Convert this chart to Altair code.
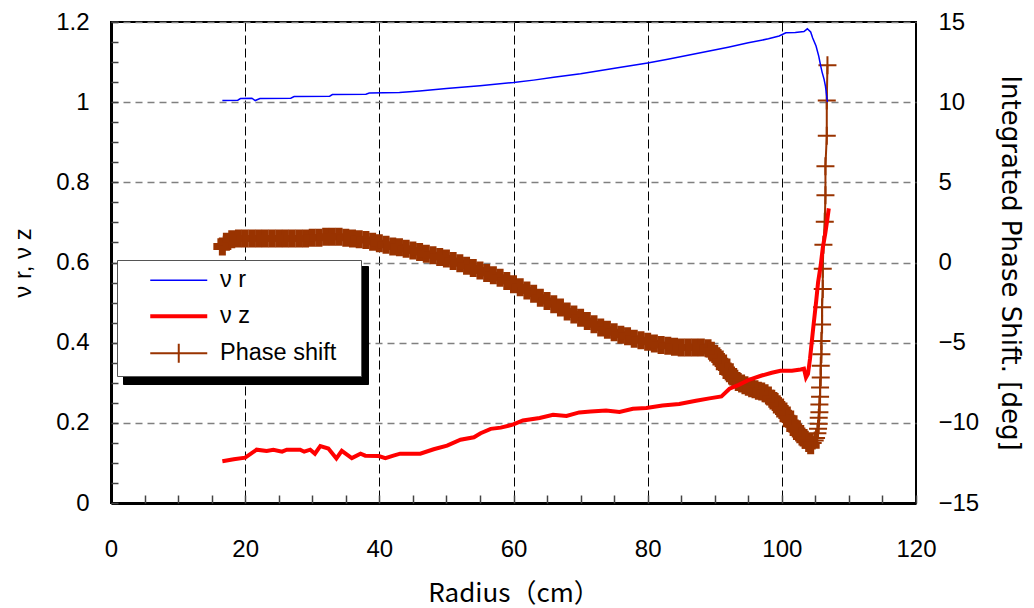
import altair as alt
import pandas as pd

SERIES = ["ν r", "ν z", "Phase shift"]
COLORS = ["#0000FF", "#FF0000", "#993300"]
WIDTHS = [1.5, 4, 2]

# nu_r (blue, left axis)
nr_r = [16.6, 18.9, 19.3, 21.0, 21.5, 22.2, 26.8, 27.3, 32.6, 33.0, 38.0, 38.5, 43.0, 46.0,
        50.0, 55.0, 60.0, 63.0, 66.0, 70.0, 73.0, 76.0, 80.0, 83.0, 86.0, 89.0, 92.0, 95.0,
        98.0, 99.6, 100.6, 102.0, 103.3, 103.8, 104.3, 104.6, 105.1, 105.5, 105.8, 106.0,
        106.3, 106.5, 106.8]
nr_v = [1.004, 1.005, 1.009, 1.010, 1.004, 1.009, 1.010, 1.014, 1.015, 1.019, 1.020, 1.023,
        1.024, 1.028, 1.034, 1.041, 1.049, 1.055, 1.062, 1.071, 1.079, 1.087, 1.098, 1.107,
        1.117, 1.127, 1.137, 1.148, 1.158, 1.165, 1.173, 1.174, 1.176, 1.183, 1.175, 1.160,
        1.140, 1.115, 1.090, 1.075, 1.057, 1.040, 1.000]

# nu_z (red, left axis)
nz_r = [16.6, 18.3, 20.0, 21.7, 23.2, 24.2, 25.5, 26.2, 28.2, 28.8, 29.7, 30.4, 31.2, 32.4,
        33.6, 34.4, 35.9, 37.2, 37.9, 39.9, 40.9, 42.1, 43.1, 46.1, 48.1, 50.1, 52.1, 54.1,
        55.1, 56.6, 58.1, 60.0, 61.4, 63.9, 65.9, 67.9, 69.8, 71.5, 73.8, 75.8, 77.8, 79.8,
        82.2, 84.7, 87.2, 89.2, 91.0, 92.2, 93.5, 95.2, 97.0, 98.5, 99.8, 101.5, 102.8, 103.3,
        103.6, 103.9, 104.2, 104.45, 104.7, 105.1, 105.4, 105.8, 106.1, 106.5, 106.8, 107.0]
nz_v = [0.104, 0.109, 0.113, 0.133, 0.130, 0.133, 0.128, 0.133, 0.133, 0.128, 0.133, 0.123,
        0.142, 0.136, 0.111, 0.130, 0.112, 0.123, 0.118, 0.117, 0.112, 0.118, 0.123, 0.123,
        0.134, 0.143, 0.158, 0.164, 0.174, 0.185, 0.188, 0.196, 0.206, 0.212, 0.220, 0.217,
        0.226, 0.228, 0.231, 0.227, 0.235, 0.237, 0.243, 0.247, 0.255, 0.261, 0.266, 0.285,
        0.294, 0.308, 0.318, 0.325, 0.330, 0.330, 0.333, 0.335, 0.313, 0.322, 0.360, 0.400,
        0.440, 0.500, 0.550, 0.594, 0.636, 0.675, 0.710, 0.735]

# Phase shift (brown, right axis), in measurement order
ph_r = [16.6, 17.2, 18, 19, 20, 21, 22, 23, 24, 25, 26, 27, 28, 29, 30, 31, 32, 33, 34, 35,
        36, 37, 38, 39, 40, 41, 42, 43, 44, 45, 46, 47, 48, 49, 50, 51, 52, 53, 54, 55, 56,
        57, 58, 59, 60, 61, 62, 63, 64, 65, 66, 67, 68, 69, 70, 71, 72, 73, 74, 75, 76, 77,
        78, 79, 80, 81, 82, 83, 84, 85, 86, 87, 88, 89, 89.5, 90, 90.5, 91, 91.5, 92, 92.5,
        93, 93.5, 94, 94.5, 95, 95.5, 96, 96.5, 97, 97.5, 98, 98.5, 99, 99.5, 100, 100.5,
        101, 101.5, 102, 102.5, 103, 103.5, 104, 104.3,
        104.6, 104.9, 105.1, 105.3, 105.4, 105.5, 105.5, 105.6, 105.6, 105.7, 105.7, 105.8,
        105.8, 105.9, 105.9, 106.0, 106.0, 106.1, 106.1, 106.2, 106.4, 106.5, 106.5, 106.7,
        106.7, 106.8]
ph_v = [1.0, 1.3, 1.45, 1.5, 1.5, 1.5, 1.5, 1.5, 1.5, 1.5, 1.5, 1.5, 1.5, 1.5, 1.55, 1.55,
        1.6, 1.6, 1.6, 1.55, 1.5, 1.45, 1.4, 1.3, 1.2, 1.1, 1.0, 0.95, 0.85, 0.75, 0.65, 0.55,
        0.45, 0.35, 0.25, 0.1, -0.05, -0.2, -0.35, -0.5, -0.65, -0.8, -0.95, -1.15, -1.35,
        -1.55, -1.75, -1.95, -2.2, -2.4, -2.6, -2.8, -3.05, -3.25, -3.45, -3.65, -3.85, -4.05,
        -4.2, -4.35, -4.5, -4.6, -4.75, -4.85, -4.95, -5.05, -5.15, -5.2, -5.25, -5.3, -5.3,
        -5.3, -5.3, -5.35, -5.5, -5.7, -5.95, -6.2, -6.5, -6.8, -7.05, -7.25, -7.45, -7.55,
        -7.65, -7.75, -7.85, -7.9, -8.0, -8.05, -8.15, -8.3, -8.5, -8.7, -8.95, -9.2, -9.45,
        -9.75, -10.05, -10.35, -10.6, -10.85, -11.05, -11.25, -11.4,
        -11.25, -11.1, -10.95, -10.65, -10.37, -10.06, -9.69, -9.34, -8.86, -8.37, -7.79,
        -7.17, -6.44, -5.72, -4.9, -3.86, -2.79, -1.65, -0.39, 1.1, 2.54, 4.2, 6.0, 7.9,
        10.1, 12.3]

X_TICKS = [0, 20, 40, 60, 80, 100, 120]
X_MINOR = [0, 5, 10, 15, 20, 25, 30, 35, 40, 45, 50, 55, 60, 65, 70, 75, 80, 85, 90, 95,
           100, 105, 110, 115, 120]
NU_TICKS = [0, 0.2, 0.4, 0.6, 0.8, 1.0, 1.2]
NU_MINOR = [0, 0.05, 0.1, 0.15, 0.2, 0.25, 0.3, 0.35, 0.4, 0.45, 0.5, 0.55, 0.6, 0.65, 0.7,
            0.75, 0.8, 0.85, 0.9, 0.95, 1.0, 1.05, 1.1, 1.15, 1.2]
PH_TICKS = [-15, -10, -5, 0, 5, 10, 15]

df_nr = pd.DataFrame({"r": nr_r, "v": nr_v, "series": SERIES[0]})
df_nz = pd.DataFrame({"r": nz_r, "v": nz_v, "series": SERIES[1]})
df_ph = pd.DataFrame({"r": ph_r, "v": ph_v, "series": SERIES[2], "i": list(range(len(ph_r)))})

W, H = 805, 481
FONT = "Liberation Sans"
CJK = "Noto Sans CJK JP"
CROSS = "M-1,0H1M0,-1V1"
# legend symbols; the trailing move-to only widens the legend panel
LINE_LEG = "M-3,0H3M17.35,0"
CROSS_LEG = "M-3,0H3M0,-1V1M17.35,0"
SHADOW_BOX = "M0,0H245V117H0Z"   # legend drop-shadow panel (one legend symbol)

xs = alt.Scale(domain=[0, 120], nice=False, zero=False)
nus = alt.Scale(domain=[0, 1.2], nice=False, zero=False)
phs = alt.Scale(domain=[-15, 15], nice=False, zero=False)
cs = alt.Scale(domain=SERIES, range=COLORS)
ws = alt.Scale(type="ordinal", domain=SERIES, range=WIDTHS)
ss = alt.Scale(domain=SERIES, range=[LINE_LEG, LINE_LEG, CROSS_LEG])
os_ = alt.Scale(domain=["shadow"], range=[1, 1])

x_main = alt.Axis(orient="bottom", values=X_TICKS, grid=True, gridColor="black",
                  gridDash=[9, 4], gridWidth=1, ticks=False, tickSize=0, domain=True,
                  domainColor="black", domainWidth=3, labelPadding=34, labelFlush=False,
                  labelFont=FONT, labelFontSize=24, labelColor="black",
                  title="Radius（cm）", titleFont=CJK, titleFontSize=26,
                  titleFontWeight="normal", titleColor="black", titlePadding=19)
x_minor = alt.Axis(orient="top", offset=-H, values=X_MINOR, grid=False, labels=False,
                   domain=False, ticks=True, tickSize=8, tickColor="#444444", tickWidth=1.5,
                   title=None)
y_nu_main = alt.Axis(orient="left", values=NU_TICKS, format="~g", grid=True,
                     gridColor="#808080", gridDash=[7, 5], gridWidth=1.5, ticks=False,
                     tickSize=0, domain=True, domainColor="black", domainWidth=3,
                     labelPadding=22, labelFont=FONT, labelFontSize=24, labelColor="black",
                     labelFlush=False, title="ν r, ν z", titleFont=FONT, titleFontSize=24,
                     titleFontWeight="normal", titleColor="black", titlePadding=20)
y_nu_minor = alt.Axis(orient="left", offset=-7, values=NU_MINOR, grid=False, labels=False,
                      domain=False, ticks=True, tickSize=7, tickColor="#444444",
                      tickWidth=1.5, title=None)
y_ph = alt.Axis(orient="right", values=PH_TICKS, grid=False, ticks=False, tickSize=0,
                domain=False, labelPadding=22, labelFont=FONT, labelFontSize=24,
                labelColor="black", labelFlush=False,
                title="Integrated Phase Shift. [deg]", titleFont="DejaVu Sans",
                titleFontSize=26, titleFontWeight="normal", titleColor="black",
                titlePadding=18)

PAD = 8.5
main_leg = alt.Legend(title=None, orient="none", direction="vertical", padding=PAD,
                      legendX=6, legendY=238, fillColor="white", strokeColor="#555555",
                      labelFont=FONT, labelFontSize=23.5, labelColor="black",
                      symbolSize=361, symbolType=LINE_LEG, symbolFillColor="transparent",
                      symbolOffset=50 - PAD, labelOffset=38 - PAD, rowPadding=11, zindex=2)
shadow_leg = alt.Legend(title=None, orient="none", direction="vertical", padding=0,
                        legendX=12, legendY=244, fillColor="black", strokeColor="black",
                        symbolType=SHADOW_BOX, symbolSize=4, symbolFillColor="black",
                        symbolStrokeColor="black", symbolStrokeWidth=0, symbolOffset=-1,
                        labelExpr="''", labelFontSize=1, labelOffset=0, zindex=1)

color_leg = alt.Color("series:N", scale=cs, legend=main_leg)
color_plain = alt.Color("series:N", scale=cs)
sw = alt.StrokeWidth("series:N", scale=ws)
X_none = alt.X("r:Q", scale=xs, axis=None)

ph_line = alt.Chart(df_ph).mark_line().encode(
    x=X_none, y=alt.Y("v:Q", scale=phs, axis=y_ph),
    color=color_plain, strokeWidth=sw, order="i:Q")
ph_dense = alt.Chart(df_ph).transform_filter("datum.r <= 104.3").mark_point(
    shape=CROSS, size=324, strokeWidth=7, filled=False, opacity=1).encode(
    x=X_none, y=alt.Y("v:Q", scale=phs, axis=None), color=color_plain)
ph_sparse = alt.Chart(df_ph).transform_filter("datum.r > 104.3").mark_point(
    shape=CROSS, size=324, strokeWidth=2, filled=False, opacity=1).encode(
    x=X_none, y=alt.Y("v:Q", scale=phs, axis=None), color=color_plain)
# legend-only layer (no rows drawn): gives the legend its symbol shapes and its shadow
leg_layer = alt.Chart(df_ph).transform_filter("false").mark_point(
    filled=False, opacity=1).encode(
    x=X_none, y=alt.Y("v:Q", scale=phs, axis=None), color=color_plain,
    shape=alt.Shape("series:N", scale=ss),
    opacity=alt.Opacity("series:N", scale=os_, legend=shadow_leg))
nr_layer = alt.Chart(df_nr).mark_line().encode(
    x=alt.X("r:Q", scale=xs, axis=x_main),
    y=alt.Y("v:Q", scale=nus, axis=y_nu_main),
    color=color_leg, strokeWidth=sw)
nz_layer = alt.Chart(df_nz).mark_line().encode(
    x=alt.X("r:Q", scale=xs, axis=x_minor),
    y=alt.Y("v:Q", scale=nus, axis=y_nu_minor),
    color=color_plain, strokeWidth=sw)

chart = alt.layer(ph_line, ph_dense, ph_sparse, leg_layer, nr_layer, nz_layer).resolve_scale(
    y="independent"
).properties(
    width=W, height=H,
    padding={"left": 103, "top": 14, "right": 110, "bottom": 107},
    autosize=alt.AutoSizeParams(type="none"),
).configure_view(stroke="black", strokeWidth=2)

chart.save("out.html", embed_options={"renderer": "svg", "actions": False})
